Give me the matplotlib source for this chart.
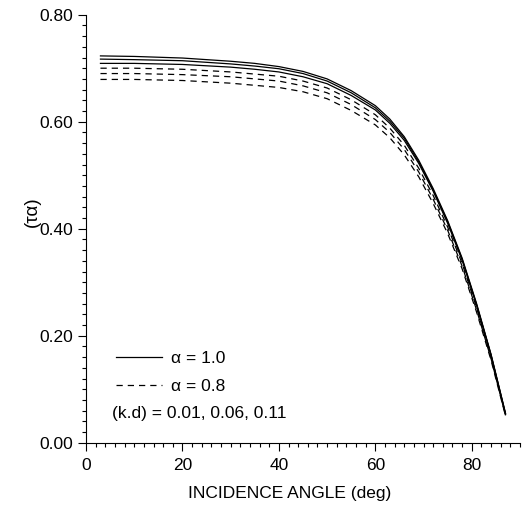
import numpy as np
import matplotlib
matplotlib.use("Agg")
import matplotlib.pyplot as plt
from matplotlib.lines import Line2D
from matplotlib.ticker import MultipleLocator, FormatStrFormatter

plt.rcParams['font.family'] = ['Liberation Sans', 'DejaVu Sans']

# incidence angle (deg)
angle = [3, 10, 20, 30, 35, 40, 45, 50, 55, 60, 63, 66, 69, 72, 75, 78, 81, 84, 87]

# alpha = 1.0, (k.d) = 0.01, 0.06, 0.11
ta_a10_kd001 = [0.723, 0.722, 0.719, 0.713, 0.709, 0.703, 0.694, 0.680, 0.658, 0.630,
                0.605, 0.572, 0.528, 0.475, 0.415, 0.345, 0.260, 0.165, 0.055]
ta_a10_kd006 = [0.717, 0.716, 0.714, 0.708, 0.704, 0.699, 0.690, 0.676, 0.654, 0.626,
                0.601, 0.569, 0.525, 0.472, 0.413, 0.343, 0.258, 0.164, 0.054]
ta_a10_kd011 = [0.709, 0.709, 0.707, 0.702, 0.698, 0.693, 0.684, 0.671, 0.649, 0.622,
                0.597, 0.565, 0.522, 0.470, 0.410, 0.341, 0.257, 0.163, 0.053]

# alpha = 0.8
ta_a08_kd001 = [0.700, 0.700, 0.698, 0.693, 0.689, 0.685, 0.676, 0.663, 0.641, 0.613,
                0.588, 0.556, 0.513, 0.462, 0.403, 0.335, 0.252, 0.159, 0.052]
ta_a08_kd006 = [0.690, 0.690, 0.688, 0.684, 0.680, 0.676, 0.667, 0.654, 0.632, 0.604,
                0.580, 0.548, 0.506, 0.455, 0.397, 0.330, 0.248, 0.157, 0.051]
ta_a08_kd011 = [0.679, 0.679, 0.677, 0.672, 0.668, 0.664, 0.656, 0.643, 0.621, 0.594,
                0.570, 0.538, 0.497, 0.447, 0.391, 0.325, 0.244, 0.154, 0.050]

solid = [ta_a10_kd001, ta_a10_kd006, ta_a10_kd011]
dashed = [ta_a08_kd001, ta_a08_kd006, ta_a08_kd011]

fig = plt.figure(figsize=(5.22, 5.11), dpi=100)
ax = fig.add_axes([86/522, 1-442.7/511, 434/522, 428/511])

for s in solid:
    ax.plot(angle, s, color='black', lw=0.9)
for s in dashed:
    ax.plot(angle, s, color='black', lw=0.9, linestyle=(0, (5, 4)))

ax.set_xlim(0, 90)
ax.set_ylim(0, 0.8)
ax.xaxis.set_major_locator(MultipleLocator(20))
ax.xaxis.set_minor_locator(MultipleLocator(2))
ax.yaxis.set_major_locator(MultipleLocator(0.2))
ax.yaxis.set_minor_locator(MultipleLocator(0.02))
ax.yaxis.set_major_formatter(FormatStrFormatter('%.2f'))

ax.spines['top'].set_visible(False)
ax.spines['right'].set_visible(False)
ax.tick_params(which='major', direction='out', length=6, width=0.8, labelsize=12.5, pad=3)
ax.tick_params(axis='x', which='major', pad=5)
ax.tick_params(which='minor', direction='out', length=3, width=0.8)

ax.set_xlabel('INCIDENCE ANGLE (deg)', fontsize=12.5)
ax.set_ylabel('(τα)', fontsize=13.5)
ax.xaxis.set_label_coords((289.5-86)/434, -0.1)
ax.yaxis.set_label_coords(-0.104, (442.7-212)/428)

handles = [Line2D([], [], color='black', lw=0.9),
           Line2D([], [], color='black', lw=0.9, linestyle=(0, (5, 4)))]
ax.legend(handles, ['α = 1.0', 'α = 0.8'], loc='lower left',
          bbox_to_anchor=(0.048, 0.094), frameon=False, fontsize=12.5,
          handlelength=2.65, handletextpad=0.55, labelspacing=0.72, borderpad=0)
ax.text(0.06, 0.069, '(k.d) = 0.01, 0.06, 0.11', transform=ax.transAxes,
        fontsize=12.5, va='center', ha='left')

fig.savefig('out.png', dpi=100)
